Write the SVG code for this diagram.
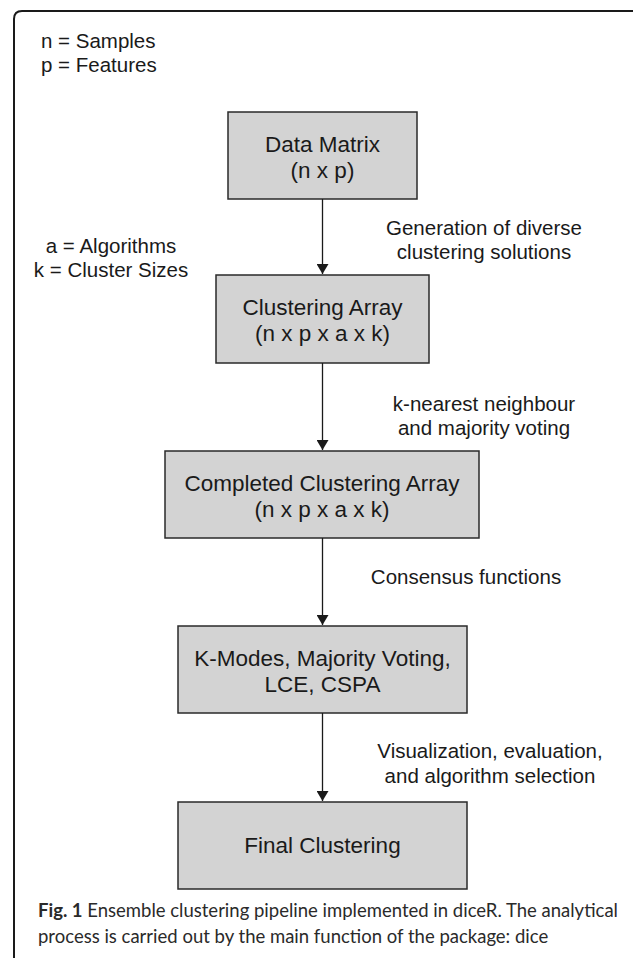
<svg xmlns="http://www.w3.org/2000/svg" width="633" height="958" viewBox="0 0 633 958">
<defs>
<marker id="ah" viewBox="0 0 10 12" refX="10" refY="6" markerWidth="10" markerHeight="12" markerUnits="userSpaceOnUse" orient="auto">
<path d="M0,0 L10,6 L0,12 Z" fill="#1a1a1a"/>
</marker>
<style>
.box{fill:#d3d3d3;stroke:#2a2a2a;stroke-width:1.5}
.t{font-family:"Liberation Sans",Arial,sans-serif;font-size:20.5px;fill:#1a1a1a}
.b{font-family:"Liberation Sans",Arial,sans-serif;font-size:22.5px;fill:#1a1a1a;text-anchor:middle}
.c{text-anchor:middle}
.edge{stroke:#1a1a1a;stroke-width:1.3;fill:none}
.cap{font-family:Lato,"Liberation Sans",sans-serif;font-size:18.5px;fill:#2a2a2a}
</style>
</defs>
<rect x="0" y="0" width="633" height="958" fill="#ffffff"/>
<path d="M14,958 L14,19 Q14,11 22,11 L640,11" fill="none" stroke="#1a1a1a" stroke-width="2"/>
<g id="legend1">
<text class="t" x="41" y="48">n = Samples</text>
<text class="t" x="41" y="72">p = Features</text>
</g>
<g id="legend2">
<text class="t c" x="111" y="253">a = Algorithms</text>
<text class="t c" x="111" y="277">k = Cluster Sizes</text>
</g>
<g id="n1">
<rect class="box" x="228" y="112" width="189" height="87"/>
<text class="b" x="322.5" y="152">Data Matrix</text>
<text class="b" x="322.5" y="178">(n x p)</text>
</g>
<g id="n2">
<rect class="box" x="216" y="275" width="213" height="88"/>
<text class="b" x="322.5" y="315">Clustering Array</text>
<text class="b" x="322.5" y="341">(n x p x a x k)</text>
</g>
<g id="n3">
<rect class="box" x="165" y="451" width="314" height="87"/>
<text class="b" x="322" y="491">Completed Clustering Array</text>
<text class="b" x="322" y="517">(n x p x a x k)</text>
</g>
<g id="n4">
<rect class="box" x="178" y="626" width="289" height="87"/>
<text class="b" x="322.5" y="666">K-Modes, Majority Voting,</text>
<text class="b" x="322.5" y="692">LCE, CSPA</text>
</g>
<g id="n5">
<rect class="box" x="178" y="802" width="289" height="87"/>
<text class="b" x="322.5" y="853">Final Clustering</text>
</g>
<g id="edges">
<line class="edge" x1="322.5" y1="199" x2="322.5" y2="274" marker-end="url(#ah)"/>
<line class="edge" x1="322.5" y1="363" x2="322.5" y2="450" marker-end="url(#ah)"/>
<line class="edge" x1="322.5" y1="538" x2="322.5" y2="625" marker-end="url(#ah)"/>
<line class="edge" x1="322.5" y1="713" x2="322.5" y2="801" marker-end="url(#ah)"/>
<text class="t c" x="484" y="235">Generation of diverse</text>
<text class="t c" x="484" y="259">clustering solutions</text>
<text class="t c" x="484" y="411">k-nearest neighbour</text>
<text class="t c" x="484" y="435">and majority voting</text>
<text class="t c" x="466" y="584">Consensus functions</text>
<text class="t c" x="490" y="758">Visualization, evaluation,</text>
<text class="t c" x="490" y="783">and algorithm selection</text>
</g>
<g id="caption">
<text class="cap" x="38" y="917"><tspan font-weight="bold">Fig. 1</tspan> Ensemble clustering pipeline implemented in diceR. The analytical</text>
<text class="cap" x="38" y="943">process is carried out by the main function of the package: dice</text>
</g>
</svg>
